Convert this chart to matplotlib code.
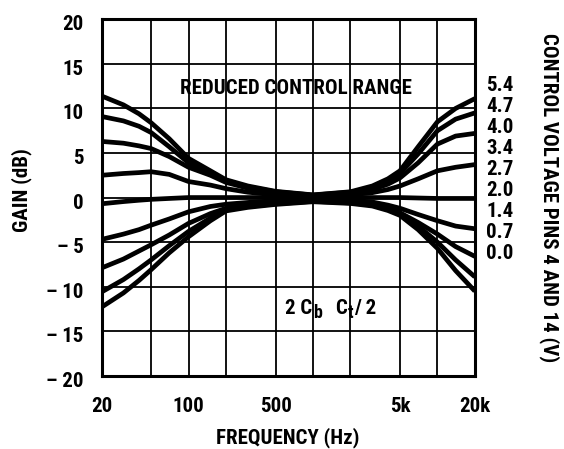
import matplotlib
matplotlib.use('Agg')
import matplotlib.pyplot as plt
from matplotlib import font_manager
from matplotlib.ticker import FixedLocator, NullLocator
from matplotlib.transforms import ScaledTranslation

# look for a narrow bold face, the original uses a condensed grotesque
fonts = font_manager.fontManager.ttflist
narrow = None
for key in ['Liberation Sans Narrow', 'Roboto Condensed', 'Open Sans Condensed',
            'DejaVu Sans Condensed', 'Noto Sans Condensed']:
    hits = [f for f in fonts if f.name == key]
    if hits:
        narrow = key
        break
if narrow is None:
    hits = [f for f in fonts if ('Condensed' in f.fname or 'Narrow' in f.fname)
            and f.name in ('DejaVu Sans', 'Noto Sans', 'Roboto', 'Open Sans')]
    if hits:
        narrow = hits[0].name
        plt.rcParams['font.stretch'] = 'condensed'
if narrow is None:
    narrow = 'Liberation Sans'

plt.rcParams['font.family'] = [narrow, 'DejaVu Sans']
plt.rcParams['font.weight'] = 'bold'
plt.rcParams['axes.labelweight'] = 'bold'

FS = 15

# Frequency points (Hz)
freqs = [20, 30, 40, 50, 70, 100, 150, 200, 300, 500, 1000, 2000, 3000,
         4000, 5000, 7000, 10000, 14000, 20000]

# Gain (dB) for each control voltage curve, top to bottom
gain_54 = [11.4, 10.4, 9.4, 8.4, 6.6, 4.4, 3.0, 2.0, 1.3, 0.7, 0.3, 0.65, 1.3,
           2.1, 3.0, 5.7, 8.5, 10.0, 11.1]
gain_47 = [9.1, 8.6, 8.0, 7.3, 5.7, 3.9, 2.8, 1.9, 1.2, 0.65, 0.28, 0.6, 1.1,
           1.8, 2.7, 4.9, 7.5, 8.8, 9.5]
gain_40 = [6.3, 6.1, 5.8, 5.5, 4.6, 3.4, 2.5, 1.7, 1.05, 0.55, 0.22, 0.5, 0.9,
           1.5, 2.2, 3.9, 6.0, 6.9, 7.2]
gain_34 = [2.5, 2.7, 2.8, 2.9, 2.6, 1.8, 1.4, 1.0, 0.6, 0.3, 0.1, 0.3, 0.55,
           0.9, 1.3, 2.1, 3.0, 3.4, 3.7]
gain_27 = [-0.7, -0.45, -0.3, -0.2, -0.1, 0.0, 0.0, 0.0, 0.0, 0.0, 0.0, 0.0,
           0.0, 0.0, 0.0, -0.05, -0.1, -0.1, -0.1]
gain_20 = [-4.7, -4.1, -3.6, -3.1, -2.4, -1.6, -1.0, -0.75, -0.55, -0.35, -0.2,
           -0.3, -0.5, -0.85, -1.2, -1.9, -2.6, -3.2, -3.5]
gain_14 = [-7.9, -6.9, -6.0, -5.3, -4.2, -2.9, -1.8, -1.2, -0.85, -0.6, -0.35,
           -0.5, -0.75, -1.2, -1.7, -2.8, -4.1, -5.5, -6.6]
gain_07 = [-10.6, -9.2, -8.0, -7.0, -5.4, -3.8, -2.3, -1.35, -1.0, -0.7, -0.42,
           -0.6, -0.85, -1.3, -1.85, -3.2, -5.0, -7.0, -8.9]
gain_00 = [-12.3, -10.7, -9.3, -8.1, -6.2, -4.4, -2.6, -1.5, -1.1, -0.77, -0.47,
           -0.66, -0.95, -1.45, -2.0, -3.6, -5.7, -8.2, -10.5]

curves = [gain_54, gain_47, gain_40, gain_34, gain_27, gain_20, gain_14,
          gain_07, gain_00]
voltage_labels = ['5.4', '4.7', '4.0', '3.4', '2.7', '2.0', '1.4', '0.7', '0.0']

grid_freqs = [20, 50, 100, 200, 500, 1000, 2000, 5000, 10000, 20000]
tick_freqs = [20, 100, 500, 5000, 20000]
tick_names = ['20', '100', '500', '5k', '20k']
gain_ticks = [20, 15, 10, 5, 0, -5, -10, -15, -20]
gain_names = ['20', '15', '10', '5', '0', '\u2013 5', '\u2013 10', '\u2013 15', '\u2013 20']

fig = plt.figure(figsize=(5.64, 4.49), dpi=100)
ax = fig.add_axes([0.180, 0.163, 0.662, 0.794])

for g in curves:
    ax.plot(freqs, g, color='black', lw=3.4, solid_capstyle='butt',
            solid_joinstyle='round')

ax.set_xscale('log')
ax.set_xlim(20, 20000)
ax.set_ylim(-20, 20)
ax.xaxis.set_major_locator(FixedLocator(grid_freqs))
ax.xaxis.set_minor_locator(NullLocator())
ax.set_yticks(gain_ticks)
ax.set_yticklabels(gain_names)
ax.grid(True, color='black', lw=1.3)
ax.tick_params(length=0, labelsize=FS)
ax.tick_params(axis='x', pad=15)
ax.tick_params(axis='y', pad=13)
ax.set_xticklabels([tick_names[tick_freqs.index(f)] if f in tick_freqs else ''
                    for f in grid_freqs])
shift = ScaledTranslation(0, -2.5 / 72, fig.dpi_scale_trans)
for lab in ax.get_yticklabels():
    lab.set_transform(lab.get_transform() + shift)
for s in ax.spines.values():
    s.set_linewidth(2.2)

ax.text(0.5, -0.174, 'FREQUENCY (Hz)', transform=ax.transAxes,
        fontsize=FS, ha='center', va='center')
ax.set_ylabel('GAIN (dB)', fontsize=FS)
ax.yaxis.set_label_coords(-0.185, 0.52)

# right-hand labels for the curves
label_top = 0.815
label_step = 0.059
for i, v in enumerate(voltage_labels):
    ax.text(1.03, label_top - i * label_step, v, transform=ax.transAxes,
            fontsize=FS, ha='left', va='center')
ax.text(1.2, 0.5, 'CONTROL VOLTAGE PINS 4 AND 14 (V)', transform=ax.transAxes,
        rotation=-90, fontsize=FS, ha='center', va='center')

ax.text(0.52, 0.805, 'REDUCED CONTROL RANGE', transform=ax.transAxes,
        fontsize=FS, ha='center', va='center')

# "2 Cb  Ct/2" with subscripts, built piece by piece
t1 = ax.text(0.491, 0.162, '2 C', transform=ax.transAxes, fontsize=FS,
             ha='left', va='bottom')
t2 = ax.annotate('b', xy=(1, 0), xycoords=t1, xytext=(0.5, -3),
                 textcoords='offset points', fontsize=FS - 2, ha='left', va='bottom')
t3 = ax.annotate('C', xy=(1, 0), xycoords=t2, xytext=(10, 3),
                 textcoords='offset points', fontsize=FS, ha='left', va='bottom')
t4 = ax.annotate('t', xy=(1, 0), xycoords=t3, xytext=(0.5, -3),
                 textcoords='offset points', fontsize=FS - 2, ha='left', va='bottom')
ax.annotate('/ 2', xy=(1, 0), xycoords=t4, xytext=(0.5, 3),
            textcoords='offset points', fontsize=FS, ha='left', va='bottom')

fig.savefig('out.png', dpi=100)
